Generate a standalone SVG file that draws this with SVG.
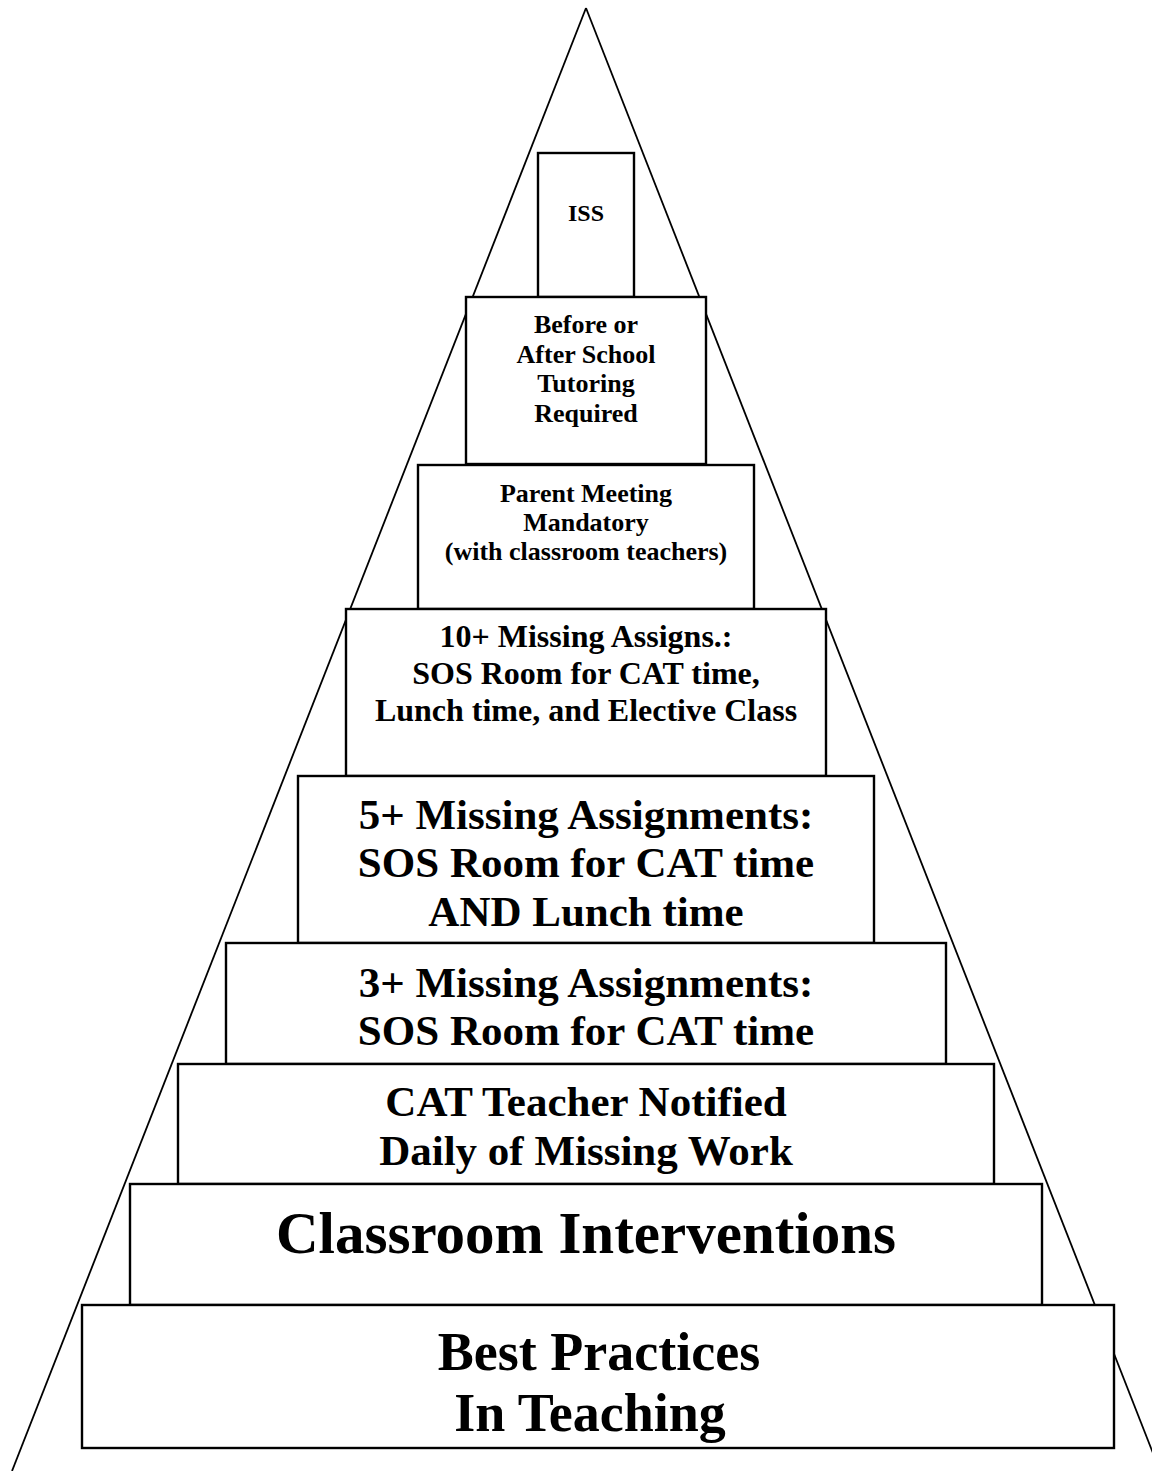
<svg xmlns="http://www.w3.org/2000/svg" width="1152" height="1471" viewBox="0 0 1152 1471">
<style>
.tri{stroke:#000;stroke-width:1.8;fill:none}
.box{fill:#fff;stroke:#000;stroke-width:2.4}
text{font-family:"Liberation Serif","Times New Roman",serif;font-weight:bold;fill:#000;text-anchor:middle}
</style>
<rect width="1152" height="1471" fill="#fff"/>
<g id="connectors">
<line class="tri" x1="586" y1="8" x2="12" y2="1471"/>
<line class="tri" x1="586" y1="8" x2="1160" y2="1471"/>
</g>
<g id="iss">
<rect class="box" x="538" y="153" width="96" height="144"/>
<text x="586" y="221" font-size="24">ISS</text>
</g>
<g id="tutoring">
<rect class="box" x="466" y="297" width="240" height="167"/>
<text font-size="26"><tspan x="586" y="333">Before or</tspan><tspan x="586" y="362.5">After School</tspan><tspan x="586" y="392">Tutoring</tspan><tspan x="586" y="421.5">Required</tspan></text>
</g>
<g id="parent">
<rect class="box" x="418" y="465" width="336" height="144"/>
<text font-size="26"><tspan x="586" y="502">Parent Meeting</tspan><tspan x="586" y="531">Mandatory</tspan><tspan x="586" y="560">(with classroom teachers)</tspan></text>
</g>
<g id="missing10">
<rect class="box" x="346" y="609" width="480" height="167"/>
<text font-size="32"><tspan x="586" y="647">10+ Missing Assigns.:</tspan><tspan x="586" y="684">SOS Room for CAT time,</tspan><tspan x="586" y="721">Lunch time, and Elective Class</tspan></text>
</g>
<g id="missing5">
<rect class="box" x="298" y="776" width="576" height="167"/>
<text font-size="43"><tspan x="586" y="829">5+ Missing Assignments:</tspan><tspan x="586" y="877">SOS Room for CAT time</tspan><tspan x="586" y="926">AND Lunch time</tspan></text>
</g>
<g id="missing3">
<rect class="box" x="226" y="943" width="720" height="121"/>
<text font-size="43"><tspan x="586" y="997">3+ Missing Assignments:</tspan><tspan x="586" y="1045">SOS Room for CAT time</tspan></text>
</g>
<g id="cat">
<rect class="box" x="178" y="1064" width="816" height="120"/>
<text font-size="43"><tspan x="586" y="1116">CAT Teacher Notified</tspan><tspan x="586" y="1165">Daily of Missing Work</tspan></text>
</g>
<g id="classroom">
<rect class="box" x="130" y="1184" width="912" height="121"/>
<text x="586" y="1253" font-size="59">Classroom Interventions</text>
</g>
<g id="best">
<rect class="box" x="82" y="1305" width="1032" height="143"/>
<text font-size="54"><tspan x="599" y="1370">Best Practices</tspan><tspan x="590" y="1431">In Teaching</tspan></text>
</g>
</svg>
